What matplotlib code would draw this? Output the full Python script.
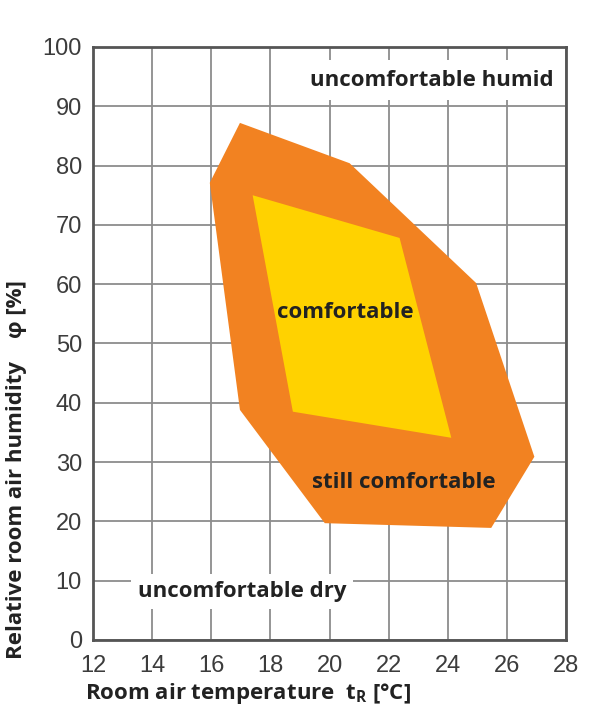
import matplotlib
matplotlib.use("Agg")
import matplotlib.pyplot as plt
from matplotlib.patches import Polygon

# Zonen der Behaglichkeit (Temperatur in °C, rel. Feuchte in %)
aussen_t = [16.97, 20.68, 24.96, 26.93, 25.47, 19.84, 16.97, 15.95]
aussen_h = [87.2, 80.4, 60.2, 30.9, 18.9, 19.7, 38.8, 77.1]
innen_t = [17.4, 22.37, 24.12, 18.76]
innen_h = [75.0, 67.8, 34.1, 38.5]

x_ticks = [12, 14, 16, 18, 20, 22, 24, 26, 28]
y_ticks = [0, 10, 20, 30, 40, 50, 60, 70, 80, 90, 100]

plt.rcParams['mathtext.fontset'] = 'custom'
plt.rcParams['mathtext.rm'] = 'Open Sans'
plt.rcParams['mathtext.bf'] = 'Open Sans:bold'

fig = plt.figure(figsize=(5.99, 7.23), dpi=100)
ax = fig.add_axes([0.1553, 0.1148, 0.7896, 0.8202])

ax.add_patch(Polygon(list(zip(aussen_t, aussen_h)), closed=True,
                     facecolor='#F28221', edgecolor='none', zorder=2))
ax.add_patch(Polygon(list(zip(innen_t, innen_h)), closed=True,
                     facecolor='#FFD200', edgecolor='none', zorder=3))

ax.set_xlim(12, 28)
ax.set_ylim(0, 100)
ax.set_xticks(x_ticks)
ax.set_yticks(y_ticks)
ax.set_axisbelow(True)
ax.grid(True, color='#8c8c8c', linewidth=1.3)
ax.tick_params(length=0, labelsize=17, labelcolor='#3c3c3c')
ax.tick_params(axis='x', pad=11)
ax.tick_params(axis='y', pad=8)
for lbl in ax.get_xticklabels() + ax.get_yticklabels():
    lbl.set_family('Liberation Sans')
for s in ax.spines.values():
    s.set_color('#555555')
    s.set_linewidth(2)

txt = dict(family='Open Sans', weight='bold', fontsize=16, color='#222222',
           ha='center', va='center', zorder=5)
ax.text(23.45, 94.4, 'uncomfortable humid',
        bbox=dict(facecolor='white', edgecolor='none', pad=7), **txt)
ax.text(20.55, 55.3, 'comfortable', **txt)
ax.text(22.5, 26.5, 'still comfortable', **txt)
ax.text(12 + (138 - 93) / 29.6, 8.2, 'uncomfortable dry', ha='left',
        va='center', family='Open Sans', weight='bold', fontsize=16,
        color='#222222', zorder=5,
        bbox=dict(facecolor='white', edgecolor='none', pad=5))

fig.text(248 / 599, 1 - 693 / 723, r'Room air temperature  $\mathbf{t_R}$ [°C]',
         family='Open Sans', weight='bold', fontsize=16, color='#222222',
         ha='center', va='center')
fig.text(17 / 599, 1 - 470 / 723, 'Relative room air humidity    φ [%]',
         family='Open Sans', weight='bold', fontsize=16, color='#222222',
         ha='center', va='center', rotation=90)

fig.savefig('out.png', dpi=100)
